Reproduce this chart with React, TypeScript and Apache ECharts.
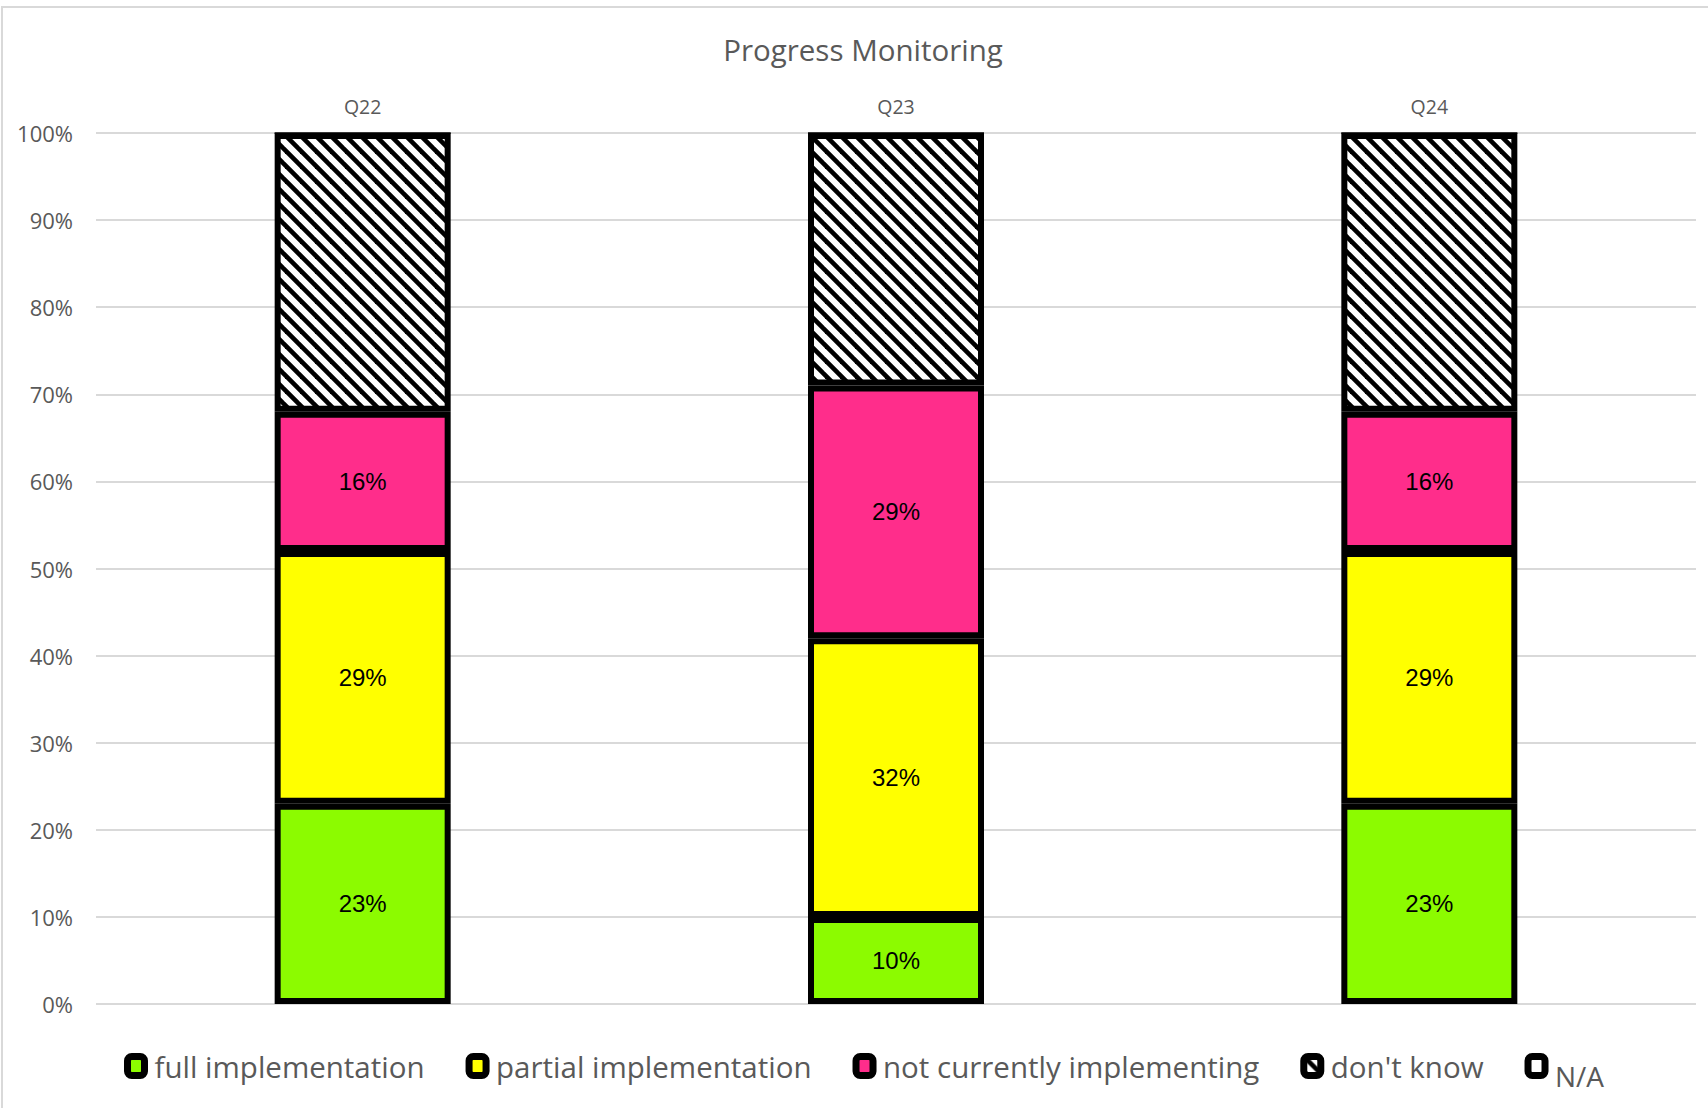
import React, { useEffect, useRef } from "react";
import * as echarts from "echarts";

const categories = ["Q22", "Q23", "Q24"];
const seriesNames = ["full implementation", "partial implementation", "not currently implementing", "don't know", "N/A"];
const fullImpl = [23, 10, 23];
const partialImpl = [29, 32, 29];
const notImpl = [16, 29, 16];
const dontKnow = [32, 29, 32];
const notApplicable = [0, 0, 0];
const yTicks = [0, 10, 20, 30, 40, 50, 60, 70, 80, 90, 100];
const titleText = "Progress Monitoring";

function makeStripe(): HTMLCanvasElement {
  const s = 15;
  const c = document.createElement("canvas");
  c.width = s;
  c.height = s;
  const ctx = c.getContext("2d")!;
  ctx.fillStyle = "#ffffff";
  ctx.fillRect(0, 0, s, s);
  ctx.strokeStyle = "#000000";
  ctx.lineWidth = 4.6;
  for (let k = -1; k <= 1; k++) {
    ctx.beginPath();
    ctx.moveTo(-2, -2 + k * s);
    ctx.lineTo(s + 2, s + 2 + k * s);
    ctx.stroke();
  }
  return c;
}

export default function App() {
  const ref = useRef<HTMLDivElement>(null);
  useEffect(() => {
    if (!ref.current) return;
    const chart = echarts.init(ref.current, undefined, { renderer: "svg" });
    const stripe = makeStripe();
    const pattern: any = { image: stripe, repeat: "repeat", imageWidth: 15, imageHeight: 15 };
    const colors = ["#8cfb00", "#ffff00", "#ff2d8b", pattern, "#ffffff"];
    const datas = [fullImpl, partialImpl, notImpl, dontKnow, notApplicable];
    const series = seriesNames.map((name, i) => ({
      name,
      type: "bar",
      stack: "total",
      barWidth: 176,
      data: datas[i],
      itemStyle: { color: colors[i], borderColor: "#000", borderWidth: i === 4 ? 1 : 6 },
      label: {
        show: i < 3,
        position: "inside",
        formatter: (p: any) => `${p.value}%`,
        color: "#000",
        fontSize: 24,
        fontFamily: "Liberation Sans",
      },
      emphasis: { disabled: true },
    }));
    chart.setOption({
      animation: false,
      backgroundColor: "#fff",
      grid: { left: 96, right: 12, top: 133, bottom: 104, containLabel: false },
      xAxis: {
        type: "category",
        data: categories,
        position: "top",
        axisLine: { show: false },
        axisTick: { show: false },
        axisLabel: { color: "#595959", fontSize: 19.5, fontFamily: "Open Sans", margin: 17 },
      },
      yAxis: {
        type: "value",
        min: yTicks[0],
        max: yTicks[yTicks.length - 1],
        interval: 10,
        axisLine: { show: false },
        axisTick: { show: false },
        axisLabel: { formatter: "{value}%", color: "#595959", fontSize: 22, fontFamily: "Open Sans", margin: 23 },
        splitLine: { lineStyle: { color: "#d9d9d9", width: 2 } },
      },
      legend: {
        data: seriesNames,
        left: 119,
        top: 1046,
        itemWidth: 17,
        itemHeight: 19,
        itemGap: 41,
        icon: "roundRect",
        itemStyle: { borderColor: "#000", borderWidth: 7 },
        formatter: (name: string) => (name === "N/A" ? "{na|N/A}" : name),
        textStyle: {
          color: "#595959",
          fontSize: 29.5,
          fontFamily: "Open Sans",
          padding: [0, 0, 0, 5],
          rich: { na: { fontSize: 28, color: "#595959", fontFamily: "Open Sans", padding: [20, 0, 0, 0] } },
        },
        selectedMode: false,
      },
      graphic: [
        {
          type: "rect",
          shape: { x: 2, y: 7, width: 1720, height: 1200 },
          style: { fill: "none", stroke: "#d9d9d9", lineWidth: 2 },
          silent: true,
        },
        {
          type: "text",
          x: 863,
          y: 49,
          style: {
            text: titleText,
            fill: "#595959",
            fontSize: 29.5,
            fontFamily: "Open Sans",
            textAlign: "center",
            textVerticalAlign: "middle",
          },
        },
      ],
      series,
    });
    return () => chart.dispose();
  }, []);
  return <div ref={ref} style={{ position: "fixed", left: 0, top: 0, width: 1708, height: 1108 }} />;
}
